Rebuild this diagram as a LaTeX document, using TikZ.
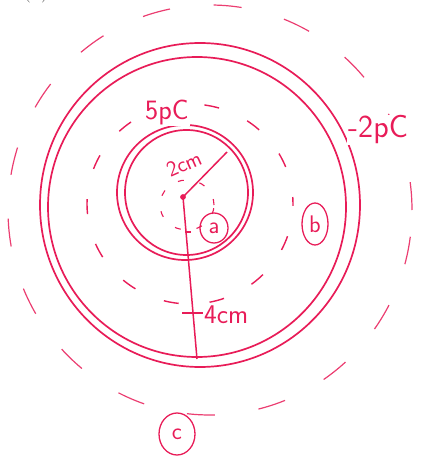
\documentclass[tikz,border=0pt]{standalone}
\usetikzlibrary{shapes.geometric}
\definecolor{ink}{RGB}{232,28,88}
\begin{document}
\begin{tikzpicture}[x=1pt,y=-1pt,
  solidring/.style={draw=ink,line width=1.7pt},
  dashring/.style={draw=ink,line width=1.4pt,dash pattern=on 15pt off 31pt,dash phase=8pt},
  farring/.style={draw=ink!85,line width=1.2pt,dash pattern=on 28pt off 44pt},
  rule/.style={draw=ink,line width=1.5pt},
  hand/.style={text=ink,font=\sffamily\fontsize{28}{28}\selectfont,inner sep=1pt},
  small/.style={text=ink,font=\sffamily\fontsize{22}{22}\selectfont,inner sep=0.5pt},
  tag/.style={draw=ink,line width=1.3pt,ellipse,inner sep=0pt,text=ink,font=\sffamily\fontsize{24}{24}\selectfont},
  print/.style={text=black!75,font=\fontsize{22}{22}\selectfont,inner sep=0pt,anchor=base}]
\useasboundingbox (0,0) rectangle (426,457);
\clip (0,0) rectangle (426,457);
% cut-off printed caption at the top
\node[print] (cap) at (36,-2) {(a)};
% outer dashed ring
\draw[farring] (210,210) ellipse [x radius=202pt, y radius=205pt];
% large double ring
\draw[solidring] (200,205) ellipse [x radius=160pt, y radius=162pt];
\draw[solidring] (197,207) ellipse [x radius=149pt, y radius=150pt];
% middle dashed ring
\draw[dashring] (190,204) ellipse [x radius=103pt, y radius=100pt];
% inner double ring
\draw[solidring] (185,192.5) ellipse [x radius=68pt, y radius=67.5pt];
\draw[solidring] (186.5,192.5) ellipse [x radius=61.5pt, y radius=62.5pt];
% small dashed ring
\draw[draw=ink,line width=1.1pt,dash pattern=on 6pt off 16pt] (187,205) ellipse [x radius=27pt, y radius=25pt];
% centre and radii
\coordinate (o) at (183,197);
\coordinate (r2) at (227,152);
\coordinate (r4) at (197,359);
\coordinate (ta) at (185,232);
\coordinate (tb) at (191,232);
\coordinate (tc) at (182,313);
\coordinate (td) at (203,313);
\draw[rule] (o) -- (r2);
\draw[rule] (o) -- (r4);
\draw[rule,line width=1.2pt] (ta) -- (tb);
\draw[rule] (tc) -- (td);
\filldraw[ink] (o) circle [radius=2.6pt];
% labels
\node[hand,anchor=base,fill=white] (q1) at (167,120) {5pC};
\node[hand,anchor=base west,fill=white,font=\sffamily\fontsize{32}{32}\selectfont] (q2) at (347,138) {-2pC};
\node[small,rotate=24,fill=white] (l2) at (184,164) {2cm};
\node[hand,anchor=base west,font=\sffamily\fontsize{27}{27}\selectfont] (l4) at (203,323) {4cm};
\node[tag,minimum width=28pt,minimum height=30pt] (a) at (214,228) {a};
\node[tag,minimum width=26pt,minimum height=42pt] (b) at (315,224) {b};
\node[tag,minimum width=36pt,minimum height=42pt] (c) at (177,434) {c};
\end{tikzpicture}
\end{document}
